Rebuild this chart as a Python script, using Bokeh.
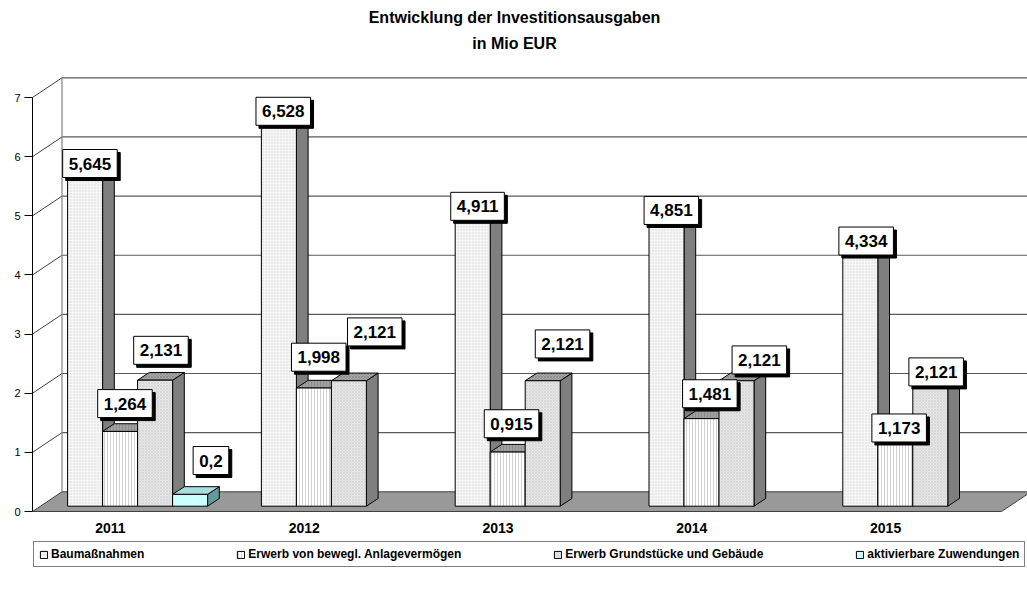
import math
from bokeh.plotting import figure
from bokeh.models import ColumnDataSource, Range1d, FixedTicker, Legend, LegendItem
from bokeh.core.properties import value
from bokeh.embed import file_html
from bokeh.resources import INLINE

# ---------------- data ----------------
categories = ["2011", "2012", "2013", "2014", "2015"]
baumassnahmen = [5.645, 6.528, 4.911, 4.851, 4.334]
erwerb_bewegl = [1.264, 1.998, 0.915, 1.481, 1.173]
erwerb_grund = [2.131, 2.121, 2.121, 2.121, 2.121]
zuwendungen = [0.2, None, None, None, None]
series_names = ["Baumaßnahmen", "Erwerb von bewegl. Anlagevermögen",
                "Erwerb Grundstücke und Gebäude", "aktivierbare Zuwendungen"]
y_ticks = [0, 1, 2, 3, 4, 5, 6, 7]
title_lines = ["Entwicklung der Investitionsausgaben", "in Mio EUR"]

series_values = [baumassnahmen, erwerb_bewegl, erwerb_grund, zuwendungen]

# ---------------- geometry / style ----------------
W, H = 1027, 590
LEFT = 32
PX_X = 193.8      # pixels per category
PX_Y = 59.14      # pixels per value unit
ZERO_PX = 511     # screen y of value 0 on front plane

WALL_DX, WALL_DY = 29.5 / PX_X, 19.7 / PX_Y
FRONT_DX, FRONT_DY = 8.2 / PX_X, 5.3 / PX_Y
DEPTH_DX, DEPTH_DY = 11.7 / PX_X, 7.7 / PX_Y
BAR_W = 35.0 / PX_X
N_CAT = len(categories)
Y_MAX = max(y_ticks)

FONT = "Liberation Sans"

styles = [
    dict(front="#f6f6f6", top="#b4b4b4", side="#7f7f7f", hatch=".", hcol="#d4d4d4", hscale=3.0),
    dict(front="#ffffff", top="#a0a0a0", side="#7f7f7f", hatch="|", hcol="#b4b4b4", hscale=3.0),
    dict(front="#e6e6e6", top="#a8a8a8", side="#7f7f7f", hatch="x", hcol="#cfcfcf", hscale=3.0),
    dict(front="#ccffff", top="#a9dcdc", side="#669999", hatch=None, hcol=None, hscale=1.0),
]

# label nudges (screen px) per category / series
label_dx = [[-1, -1, 0, 15], [-1.5, -1, 20, 0], [-1, -2, 14, 0], [-1, 2.5, 17, 0], [0, -2, 0, 0]]
label_dy = [[-5, -24, -26, -30], [-5, -27, -45, 0], [-5.6, -24.5, -33, 0], [-5, -21, -17, 0], [-5, -5, -5, 0]]

p = figure(width=W, height=H, output_backend="svg", toolbar_location=None,
           x_range=Range1d(0, (W - LEFT) / PX_X),
           y_range=Range1d(-(H - ZERO_PX) / PX_Y, ZERO_PX / PX_Y),
           x_axis_location=None, y_axis_location="left",
           min_border_left=LEFT, min_border_right=0, min_border_top=0, min_border_bottom=0)
p.outline_line_color = None
p.grid.visible = False
p.background_fill_color = "white"
p.border_fill_color = "white"

yax = p.yaxis[0]
yax.ticker = FixedTicker(ticks=y_ticks)
yax.bounds = (0, Y_MAX)
yax.axis_line_color = "black"
yax.major_tick_line_color = "black"
yax.major_tick_out = 8
yax.major_tick_in = 0
yax.minor_tick_out = 0
yax.minor_tick_in = 0
yax.major_label_standoff = 4
yax.major_label_text_font = FONT
yax.major_label_text_font_size = "11px"
yax.major_label_text_color = "black"

# ---------------- walls ----------------
grid_vals = [t for t in y_ticks if t > 0]
p.segment(x0=[WALL_DX] * len(grid_vals), y0=[v + WALL_DY for v in grid_vals],
          x1=[N_CAT + WALL_DX] * len(grid_vals), y1=[v + WALL_DY for v in grid_vals],
          line_color="#5a5a5a", line_width=1.2)
p.segment(x0=[0] * len(grid_vals), y0=grid_vals,
          x1=[WALL_DX] * len(grid_vals), y1=[v + WALL_DY for v in grid_vals],
          line_color="#404040", line_width=1)
p.segment(x0=[WALL_DX], y0=[WALL_DY], x1=[WALL_DX], y1=[Y_MAX + WALL_DY],
          line_color="#808080", line_width=1.2)

# floor
p.patch(x=[0, N_CAT, N_CAT + WALL_DX, WALL_DX], y=[0, 0, WALL_DY, WALL_DY],
        fill_color="#999999", line_color="#404040", line_width=1)

# ---------------- bars ----------------
side_r, front_r = [], []
bar_data = []
for s, vals in enumerate(series_values):
    st = styles[s]
    xc, tops, sx, sy, tx, ty = [], [], [], [], [], []
    for i, v in enumerate(vals):
        if v is None:
            continue
        c = i + 0.5 + (s - 1.5) * BAR_W + FRONT_DX
        xl, xr = c - BAR_W / 2, c + BAR_W / 2
        t = v + FRONT_DY
        xc.append(c)
        tops.append(t)
        sx.append([xr, xr, xr + DEPTH_DX, xr + DEPTH_DX])
        sy.append([FRONT_DY, t, t + DEPTH_DY, FRONT_DY + DEPTH_DY])
        tx.append([xl, xr, xr + DEPTH_DX, xl + DEPTH_DX])
        ty.append([t, t, t + DEPTH_DY, t + DEPTH_DY])
        bar_data.append((i, s, v, c + DEPTH_DX / 2, t + DEPTH_DY / 2))
    side_r.append((st, dict(xc=xc, tops=tops, sx=sx, sy=sy, tx=tx, ty=ty)))

# sides
for st, d in side_r:
    p.patches(xs=d["sx"], ys=d["sy"], fill_color=st["side"], line_color="black", line_width=1)
# tops
for st, d in side_r:
    kw = {}
    if st["hatch"]:
        kw = dict(hatch_pattern=st["hatch"], hatch_color="#808080", hatch_scale=st["hscale"], hatch_weight=0.6)
    p.patches(xs=d["tx"], ys=d["ty"], fill_color=st["top"], line_color="black", line_width=1, **kw)
# fronts
for st, d in side_r:
    kw = {}
    if st["hatch"]:
        kw = dict(hatch_pattern=st["hatch"], hatch_color=st["hcol"], hatch_scale=st["hscale"], hatch_weight=0.6)
    r = p.vbar(x=d["xc"], width=BAR_W, bottom=FRONT_DY, top=d["tops"],
               fill_color=st["front"], line_color="black", line_width=1, **kw)
    front_r.append(r)

# ---------------- value labels ----------------
lx, ly, ltxt, ldx, ldy = [], [], [], [], []
for (i, s, v, x, y) in bar_data:
    lx.append(x)
    ly.append(y)
    ltxt.append(str(v).replace(".", ","))
    ldx.append(label_dx[i][s])
    ldy.append(label_dy[i][s])
shadow = ColumnDataSource(dict(x=lx, y=ly, text=ltxt,
                               dx=[d + 3 for d in ldx], dy=[d + 3 for d in ldy]))
lab = ColumnDataSource(dict(x=lx, y=ly, text=ltxt, dx=ldx, dy=ldy))
common = dict(text_font=value(FONT), text_font_size="17px", text_font_style="bold",
              text_align="center", text_baseline="middle", padding=(6, 8))
p.text(x="x", y="y", text="text", x_offset="dx", y_offset="dy", source=shadow,
       text_color="black", background_fill_color="black", border_line_color="black",
       **common)
p.text(x="x", y="y", text="text", x_offset="dx", y_offset="dy", source=lab,
       text_color="black", background_fill_color="white", border_line_color="black",
       border_line_width=1, **common)

# ---------------- category labels ----------------
p.text(x=[i + 0.5 for i in range(N_CAT)], y=[0] * N_CAT, text=categories,
       x_offset=-19, y_offset=16, text_font=value(FONT), text_font_size="14px",
       text_font_style="bold", text_align="center", text_baseline="middle", text_color="black")

# ---------------- title ----------------
p.text(x=[(514 - LEFT) / PX_X] * 2,
       y=[(ZERO_PX - 17) / PX_Y, (ZERO_PX - 43) / PX_Y],
       text=title_lines, text_font=value(FONT), text_font_size="16px",
       text_font_style="bold", text_align="center", text_baseline="middle", text_color="black")

# ---------------- legend ----------------
legend = Legend(items=[LegendItem(label=n, renderers=[r]) for n, r in zip(series_names, front_r)],
                orientation="horizontal", location=(1, H - 567),
                glyph_width=9, glyph_height=9, label_standoff=3, spacing=92,
                padding=5, margin=0, border_line_color="black", border_line_width=1,
                background_fill_color="white", background_fill_alpha=1.0,
                label_text_font=FONT, label_text_font_size="12px",
                label_text_font_style="bold", label_text_color="black")
p.add_layout(legend)

open("out.html", "w").write(file_html(p, INLINE))
